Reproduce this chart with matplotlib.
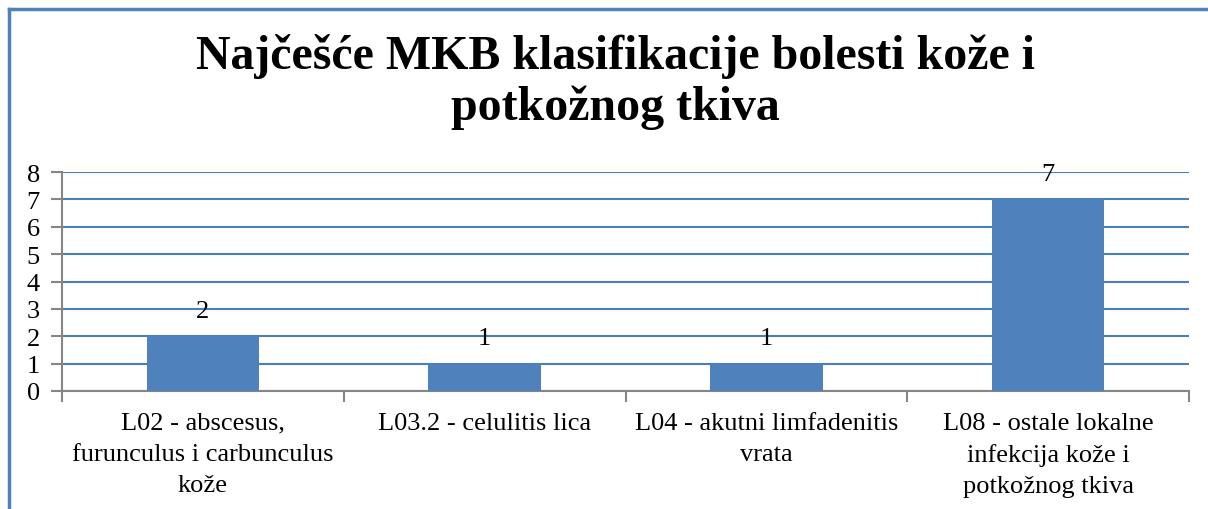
import matplotlib
matplotlib.use("Agg")
import matplotlib.pyplot as plt
from matplotlib.lines import Line2D

categories = ["L02 - abscesus,\nfurunculus i carbunculus\nkože",
              "L03.2 - celulitis lica",
              "L04 - akutni limfadenitis\nvrata",
              "L08 - ostale lokalne\ninfekcija kože i\npotkožnog tkiva"]
values = [2, 1, 1, 7]
title = "Najčešće MKB klasifikacije bolesti kože i\npotkožnog tkiva"

plt.rcParams['font.family'] = ['Liberation Serif', 'DejaVu Serif']

W, H = 1208, 510
fig = plt.figure(figsize=(W/100, H/100), dpi=100)

# frame (left and top blue border)
fig.add_artist(Line2D([9/W, 9/W], [0, 1 - 10/H], transform=fig.transFigure,
                      color='#4f81bd', lw=2.5))
fig.add_artist(Line2D([9/W, 1], [1 - 10/H, 1 - 10/H], transform=fig.transFigure,
                      color='#4f81bd', lw=2.5))

ax = fig.add_axes([62/W, (H-392)/H, (1189-62)/W, (392-173)/H])
x = list(range(len(categories)))
bars = ax.bar(x, values, width=0.4, color='#4f81bd', zorder=3)
for xi, v in zip(x, values):
    ax.text(xi, v + 0.93, str(v), ha='center', va='center', fontsize=19, zorder=4)

ax.set_xlim(-0.5, len(categories) - 0.5)
ax.set_ylim(0, 8)
ax.set_yticks(range(0, 9))
ax.yaxis.grid(True, color='#4a7ebb', lw=1.5, zorder=0)
ax.set_axisbelow(True)

ax.set_xticks([i - 0.5 for i in range(len(categories) + 1)])
ax.set_xticklabels([])
ax.set_xticks(x, minor=True)
ax.set_xticklabels(categories, minor=True, fontsize=19, linespacing=1.52)
ax.tick_params(axis='x', which='minor', length=0, pad=15)
ax.tick_params(axis='x', which='major', length=8, width=1.5, color='#868686', direction='out')
ax.tick_params(axis='y', length=8, width=1.5, color='#868686', direction='out', labelsize=19, pad=8)

for s in ['top', 'right']:
    ax.spines[s].set_visible(False)
for s in ['left', 'bottom']:
    ax.spines[s].set_color('#868686')
    ax.spines[s].set_linewidth(1.5)

fig.text(615/W, 1 - 120/H, title, ha='center', va='baseline', fontsize=34.5,
         fontweight='bold', linespacing=1.2)

fig.savefig("out.png", dpi=100)
